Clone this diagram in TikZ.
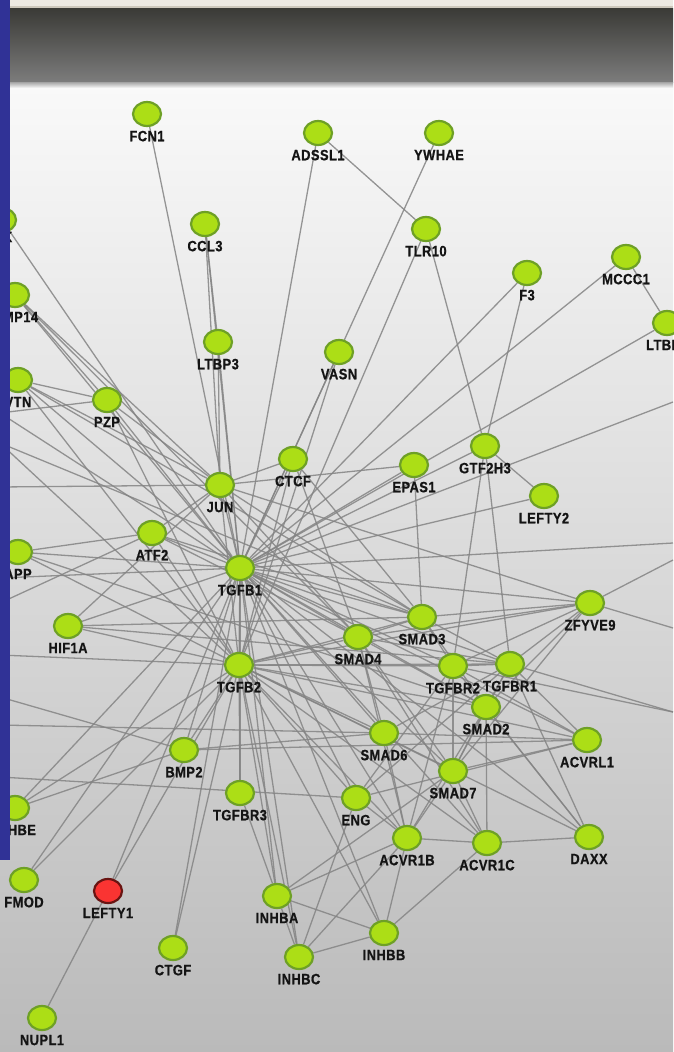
\documentclass[tikz,border=0pt]{standalone}
\usepackage{fontspec}
\newfontfamily\labfont[FakeStretch=0.86,LetterSpace=3,BoldFeatures={FakeBold=0.7}]{Liberation Sans}
\usetikzlibrary{shapes.geometric}

\definecolor{bluebar}{RGB}{48,50,150}
\definecolor{hdrtop}{RGB}{58,58,54}
\definecolor{hdrbot}{RGB}{124,124,124}
\definecolor{bgtop}{RGB}{249,249,249}
\definecolor{bgbot}{RGB}{186,186,186}
\definecolor{nodefill}{RGB}{172,222,22}
\definecolor{nodeedge}{RGB}{110,160,38}
\definecolor{redfill}{RGB}{250,52,50}
\definecolor{rededge}{RGB}{105,20,18}
\definecolor{edgegray}{RGB}{132,132,132}
\definecolor{stripA}{RGB}{236,233,226}
\definecolor{stripB}{RGB}{205,200,188}

\pgfdeclarelayer{bg}
\pgfdeclarelayer{edges}
\pgfdeclarelayer{front}
\pgfsetlayers{bg,edges,main,front}

\tikzset{
  gene/.style={ellipse, draw=nodeedge, line width=2.2pt, fill=nodefill,
    minimum width=28pt, minimum height=24pt, inner sep=0pt,
    label={[lab]below:#1}},
  hitgene/.style={gene=#1, draw=rededge, fill=redfill},
  lab/.style={font=\labfont\bfseries\fontsize{15}{16}\selectfont,
    text=black!92, inner sep=0.5pt, label distance=3pt},
  edge/.style={draw=edgegray, line width=1.3pt, opacity=0.85}
}

\newcommand{\gn}[4][gene]{\node[#1=#4] (#4) at (#2,#3) {};}

\begin{document}
\begin{tikzpicture}[x=1pt,y=-1pt]
\useasboundingbox (0,0) rectangle (673,1052);

\begin{pgfonlayer}{bg}
  % canvas and title bar
  \fill[top color=bgtop, bottom color=bgbot] (0,86) rectangle (673,1052);
  \fill[stripA] (0,0) rectangle (673,7);
  \fill[stripB] (0,6) rectangle (673,8);
  \fill[top color=hdrtop, bottom color=hdrbot] (0,8) rectangle (673,82);
  \fill[top color=hdrbot!70!white, bottom color=bgtop] (0,82) rectangle (673,88);
\end{pgfonlayer}

% genes
\gn{147}{114}{FCN1}
\gn{318}{133}{ADSSL1}
\gn{439}{133}{YWHAE}
\gn{205}{224}{CCL3}
\gn{426}{229}{TLR10}
\gn{527}{273}{F3}
\gn{626}{257}{MCCC1}
\gn{667}{323}{LTBP1}
\gn{218}{342}{LTBP3}
\gn{339}{352}{VASN}
\gn{107}{400}{PZP}
\gn{220}{485}{JUN}
\gn{293}{459}{CTCF}
\gn{414}{465}{EPAS1}
\gn{485}{446}{GTF2H3}
\gn{544}{496}{LEFTY2}
\gn{152}{533}{ATF2}
\gn{240}{568}{TGFB1}
\gn{68}{626}{HIF1A}
\gn{422}{617}{SMAD3}
\gn{590}{603}{ZFYVE9}
\gn{358}{637}{SMAD4}
\gn{239}{665}{TGFB2}
\gn{453}{666}{TGFBR2}
\gn{510}{664}{TGFBR1}
\gn{486}{707}{SMAD2}
\gn{384}{733}{SMAD6}
\gn{587}{740}{ACVRL1}
\gn{184}{750}{BMP2}
\gn{453}{771}{SMAD7}
\gn{240}{793}{TGFBR3}
\gn{356}{798}{ENG}
\gn{407}{838}{ACVR1B}
\gn{487}{843}{ACVR1C}
\gn{589}{837}{DAXX}
\gn{24}{880}{FMOD}
\gn[hitgene]{108}{891}{LEFTY1}
\gn{277}{896}{INHBA}
\gn{384}{933}{INHBB}
\gn{173}{948}{CTGF}
\gn{299}{957}{INHBC}
\gn{42}{1018}{NUPL1}
\gn{15}{295}{MMP14}
\gn{18}{380}{VTN}
\gn{18}{552}{APP}
\gn{15}{808}{INHBE}
\node[gene={}] (SMURF) at (2,220) {};
\node[lab, anchor=east] (SMURFlab) at (13,237) {K};

% partners outside the visible frame
\coordinate (L1) at (0,413);
\coordinate (L2) at (0,443);
\coordinate (L3) at (0,487);
\coordinate (L4) at (0,578);
\coordinate (L5) at (0,603);
\coordinate (L6) at (0,697);
\coordinate (L7) at (0,777);
\coordinate (L8) at (0,655);
\coordinate (L9) at (0,725);
\coordinate (R1) at (673,402);
\coordinate (R2) at (673,543);
\coordinate (R3) at (673,560);
\coordinate (R4) at (673,628);
\coordinate (R5) at (673,712);

\begin{pgfonlayer}{edges}
  \foreach \b in {FCN1,ADSSL1,YWHAE,CCL3,LTBP3,VASN,F3,MCCC1,LTBP1,JUN,CTCF,
      EPAS1,GTF2H3,LEFTY2,ATF2,PZP,VTN,MMP14,SMURF,APP,HIF1A,SMAD3,SMAD4,
      ZFYVE9,TGFBR2,TGFBR1,SMAD2,SMAD6,SMAD7,ACVRL1,TGFB2,BMP2,TGFBR3,ENG,
      ACVR1B,ACVR1C,DAXX,INHBA,INHBB,INHBC,CTGF,LEFTY1,FMOD,INHBE,
      L1,L4,R1,R2}
    \draw[edge] (TGFB1) -- (\b);
  \foreach \b in {TLR10,VASN,PZP,JUN,CTCF,ATF2,SMAD3,SMAD4,TGFBR2,TGFBR1,
      SMAD2,SMAD7,SMAD6,BMP2,TGFBR3,ENG,ACVR1B,ACVR1C,INHBA,INHBC,INHBB,
      CTGF,LEFTY1,HIF1A,APP,VTN,INHBE,FMOD,ACVRL1,DAXX,ZFYVE9,L2,L8}
    \draw[edge] (TGFB2) -- (\b);
  \foreach \b in {LTBP3,CCL3,PZP,ATF2,CTCF,SMAD3,SMAD4,MMP14,VTN,HIF1A,
      EPAS1,L3}
    \draw[edge] (JUN) -- (\b);
  \foreach \a/\b in {ADSSL1/TLR10, TLR10/GTF2H3, F3/GTF2H3, MCCC1/LTBP1,
      CCL3/LTBP3, PZP/VTN, PZP/MMP14, GTF2H3/LEFTY2, GTF2H3/TGFBR2,
      GTF2H3/TGFBR1, EPAS1/SMAD3, CTCF/SMAD3, CTCF/SMAD4, ATF2/APP,
      ATF2/SMAD3, HIF1A/SMAD3, SMAD3/SMAD4, SMAD3/TGFBR2, SMAD3/TGFBR1,
      SMAD3/SMAD2, SMAD3/ZFYVE9, SMAD4/SMAD2, SMAD4/ZFYVE9, SMAD4/TGFBR1,
      SMAD4/SMAD7, SMAD4/ACVR1B, SMAD4/ACVR1C, SMAD4/SMAD6,
      TGFBR2/TGFBR1, TGFBR2/SMAD7, TGFBR2/ENG, TGFBR2/ZFYVE9,
      TGFBR2/ACVRL1, TGFBR2/DAXX, TGFBR2/ACVR1B, TGFBR1/SMAD7,
      TGFBR1/ZFYVE9, TGFBR1/ACVRL1, TGFBR1/DAXX, TGFBR1/SMAD2,
      TGFBR1/ENG, SMAD2/ZFYVE9, SMAD2/ACVR1C, SMAD2/SMAD7, SMAD2/ACVR1B,
      SMAD2/DAXX, SMAD6/ACVR1B, SMAD6/TGFBR1, SMAD6/ACVRL1,
      SMAD7/ACVR1B, SMAD7/ACVRL1, SMAD7/ACVR1C, SMAD7/INHBA, ZFYVE9/SMAD7,
      ENG/ACVRL1, ENG/ACVR1B, ENG/INHBC, ACVR1B/ACVR1C, ACVR1C/DAXX,
      ACVR1B/INHBB, ACVR1B/INHBA, ACVR1C/INHBB, INHBA/INHBC, INHBA/INHBB,
      INHBC/INHBB, INHBC/ACVR1B, INHBA/TGFBR3, BMP2/SMAD6, BMP2/ACVRL1,
      BMP2/INHBE, LEFTY1/NUPL1, JUN/ZFYVE9, ATF2/SMAD4, HIF1A/TGFBR1,
      APP/SMAD2, VTN/SMAD3, MMP14/SMAD4, ZFYVE9/R3, ZFYVE9/R4,
      TGFBR1/R5, TGFBR2/R5, BMP2/L6, ENG/L7, SMAD6/L9, ATF2/L5,
      PZP/L1, SMAD3/L2}
    \draw[edge] (\a) -- (\b);
\end{pgfonlayer}

\begin{pgfonlayer}{front}
  \fill[bluebar] (0,0) rectangle (10,860);
\end{pgfonlayer}
\end{tikzpicture}
\end{document}
